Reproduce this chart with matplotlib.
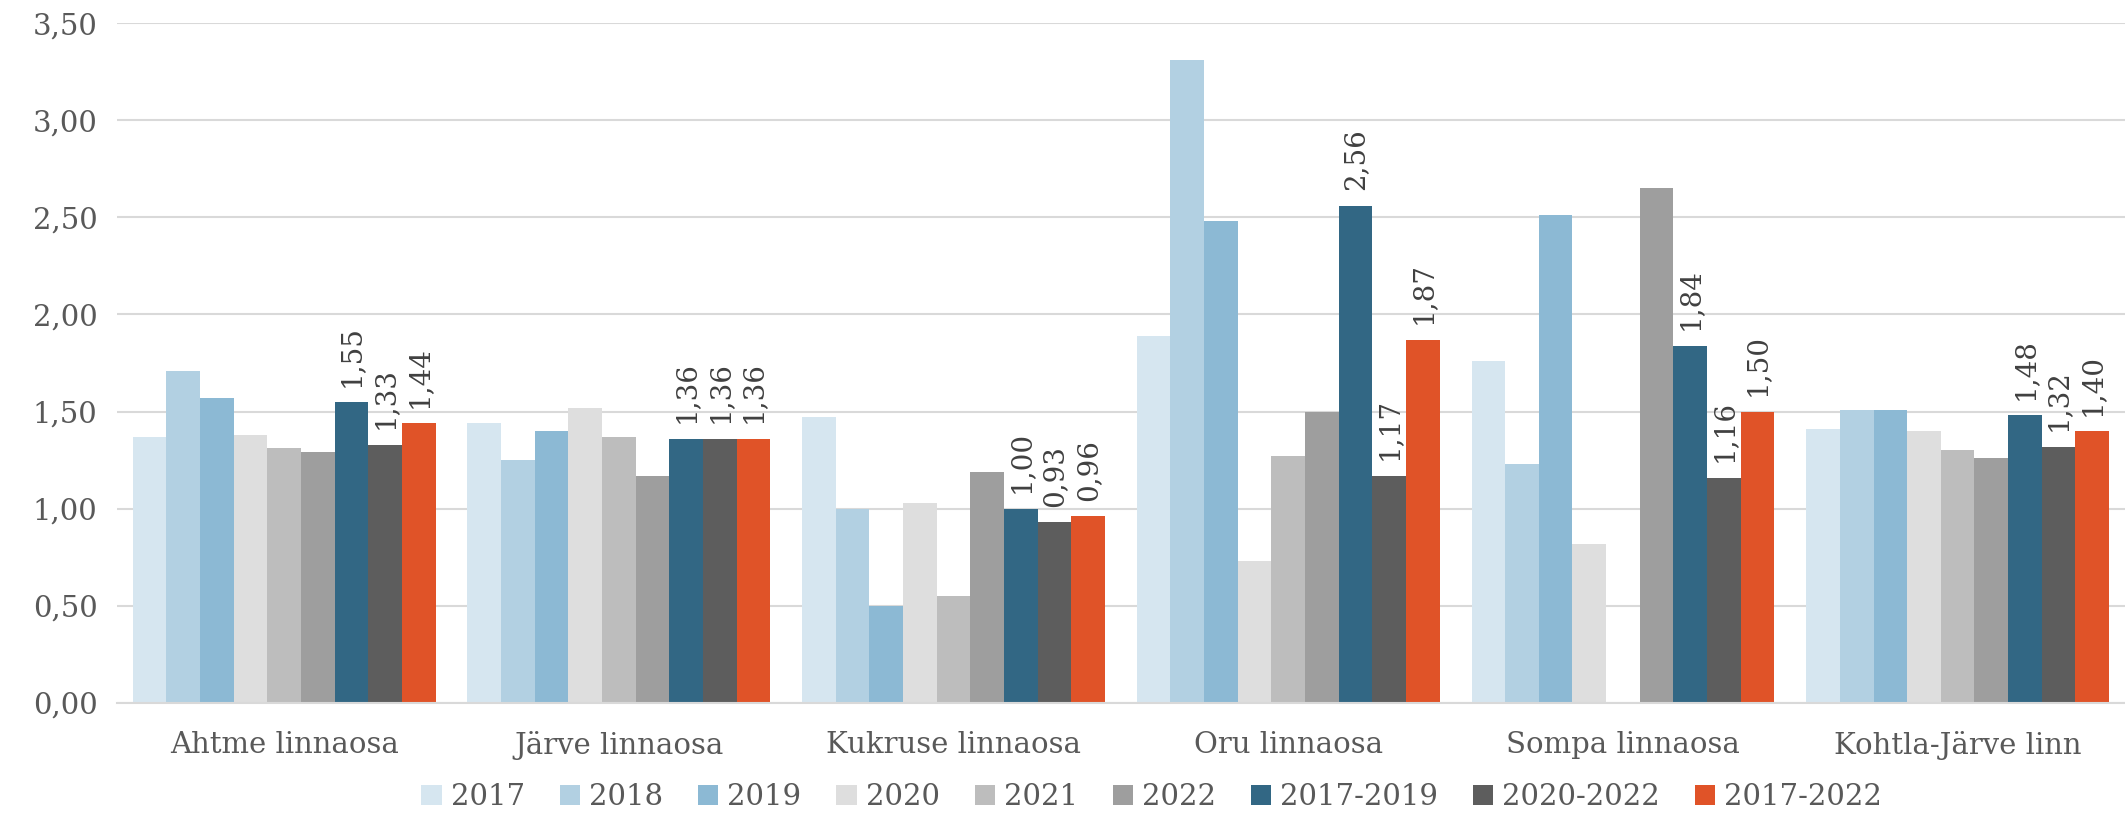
import numpy as np
import matplotlib
matplotlib.use('Agg')
import matplotlib.pyplot as plt

# linnaosad
categories = ['Ahtme linnaosa', 'Järve linnaosa', 'Kukruse linnaosa',
              'Oru linnaosa', 'Sompa linnaosa', 'Kohtla-Järve linn']

series = ['2017', '2018', '2019', '2020', '2021', '2022',
          '2017-2019', '2020-2022', '2017-2022']

v2017 = [1.37, 1.44, 1.47, 1.89, 1.76, 1.41]
v2018 = [1.71, 1.25, 1.00, 3.31, 1.23, 1.51]
v2019 = [1.57, 1.40, 0.50, 2.48, 2.51, 1.51]
v2020 = [1.38, 1.52, 1.03, 0.73, 0.82, 1.40]
v2021 = [1.31, 1.37, 0.55, 1.27, np.nan, 1.30]
v2022 = [1.29, 1.17, 1.19, 1.50, 2.65, 1.26]
v2017_2019 = [1.55, 1.36, 1.00, 2.56, 1.84, 1.48]
v2020_2022 = [1.33, 1.36, 0.93, 1.17, 1.16, 1.32]
v2017_2022 = [1.44, 1.36, 0.96, 1.87, 1.50, 1.40]

values = [v2017, v2018, v2019, v2020, v2021, v2022,
          v2017_2019, v2020_2022, v2017_2022]

colors = ['#d6e6f0', '#b2d0e2', '#8cb9d4', '#dedede', '#bdbdbd', '#9e9e9e',
          '#326784', '#5d5d5d', '#e05328']

plt.rcParams['font.family'] = ['DejaVu Serif']
txt = '#595959'

fig = plt.figure(figsize=(21.25, 8.26), dpi=100)
ax = fig.add_axes([0.055, 0.149, 0.945, 0.823])

x = np.arange(len(categories))
n = len(series)
group = 0.905
w = group / n

for i, (name, vals, c) in enumerate(zip(series, values, colors)):
    pos = x - group / 2 + w * (i + 0.5)
    bars = ax.bar(pos, vals, w, color=c, label=name, linewidth=0)
    if i >= 6:
        # only the period averages get labels
        labs = ['{:.2f}'.format(v).replace('.', ',') for v in vals]
        ax.bar_label(bars, labels=labs, rotation=90, padding=11,
                     fontsize=20, color='#404040')

ax.set_xlim(-0.5, len(categories) - 0.5)
ax.set_ylim(0, 3.5)
yt = np.arange(0, 3.51, 0.5)
ax.set_yticks(yt)
ax.set_yticklabels(['{:.2f}'.format(t).replace('.', ',') for t in yt])
ax.set_xticks(x)
ax.set_xticklabels(categories)
ax.tick_params(axis='both', length=0, labelsize=21, colors=txt)
ax.tick_params(axis='x', pad=20)
ax.tick_params(axis='y', pad=14)

ax.grid(axis='y', color='#d9d9d9', linewidth=1.5)
ax.set_axisbelow(True)
for s in ['top', 'right', 'left']:
    ax.spines[s].set_visible(False)
ax.spines['bottom'].set_color('#d9d9d9')
ax.spines['bottom'].set_linewidth(1.5)

leg = fig.legend(loc='center', bbox_to_anchor=(0.542, 0.035), ncol=n,
                 frameon=False, fontsize=21, handlelength=0.7, handleheight=0.7,
                 handletextpad=0.3, columnspacing=1.2)
for t in leg.get_texts():
    t.set_color(txt)

fig.savefig('out.png', dpi=100)
